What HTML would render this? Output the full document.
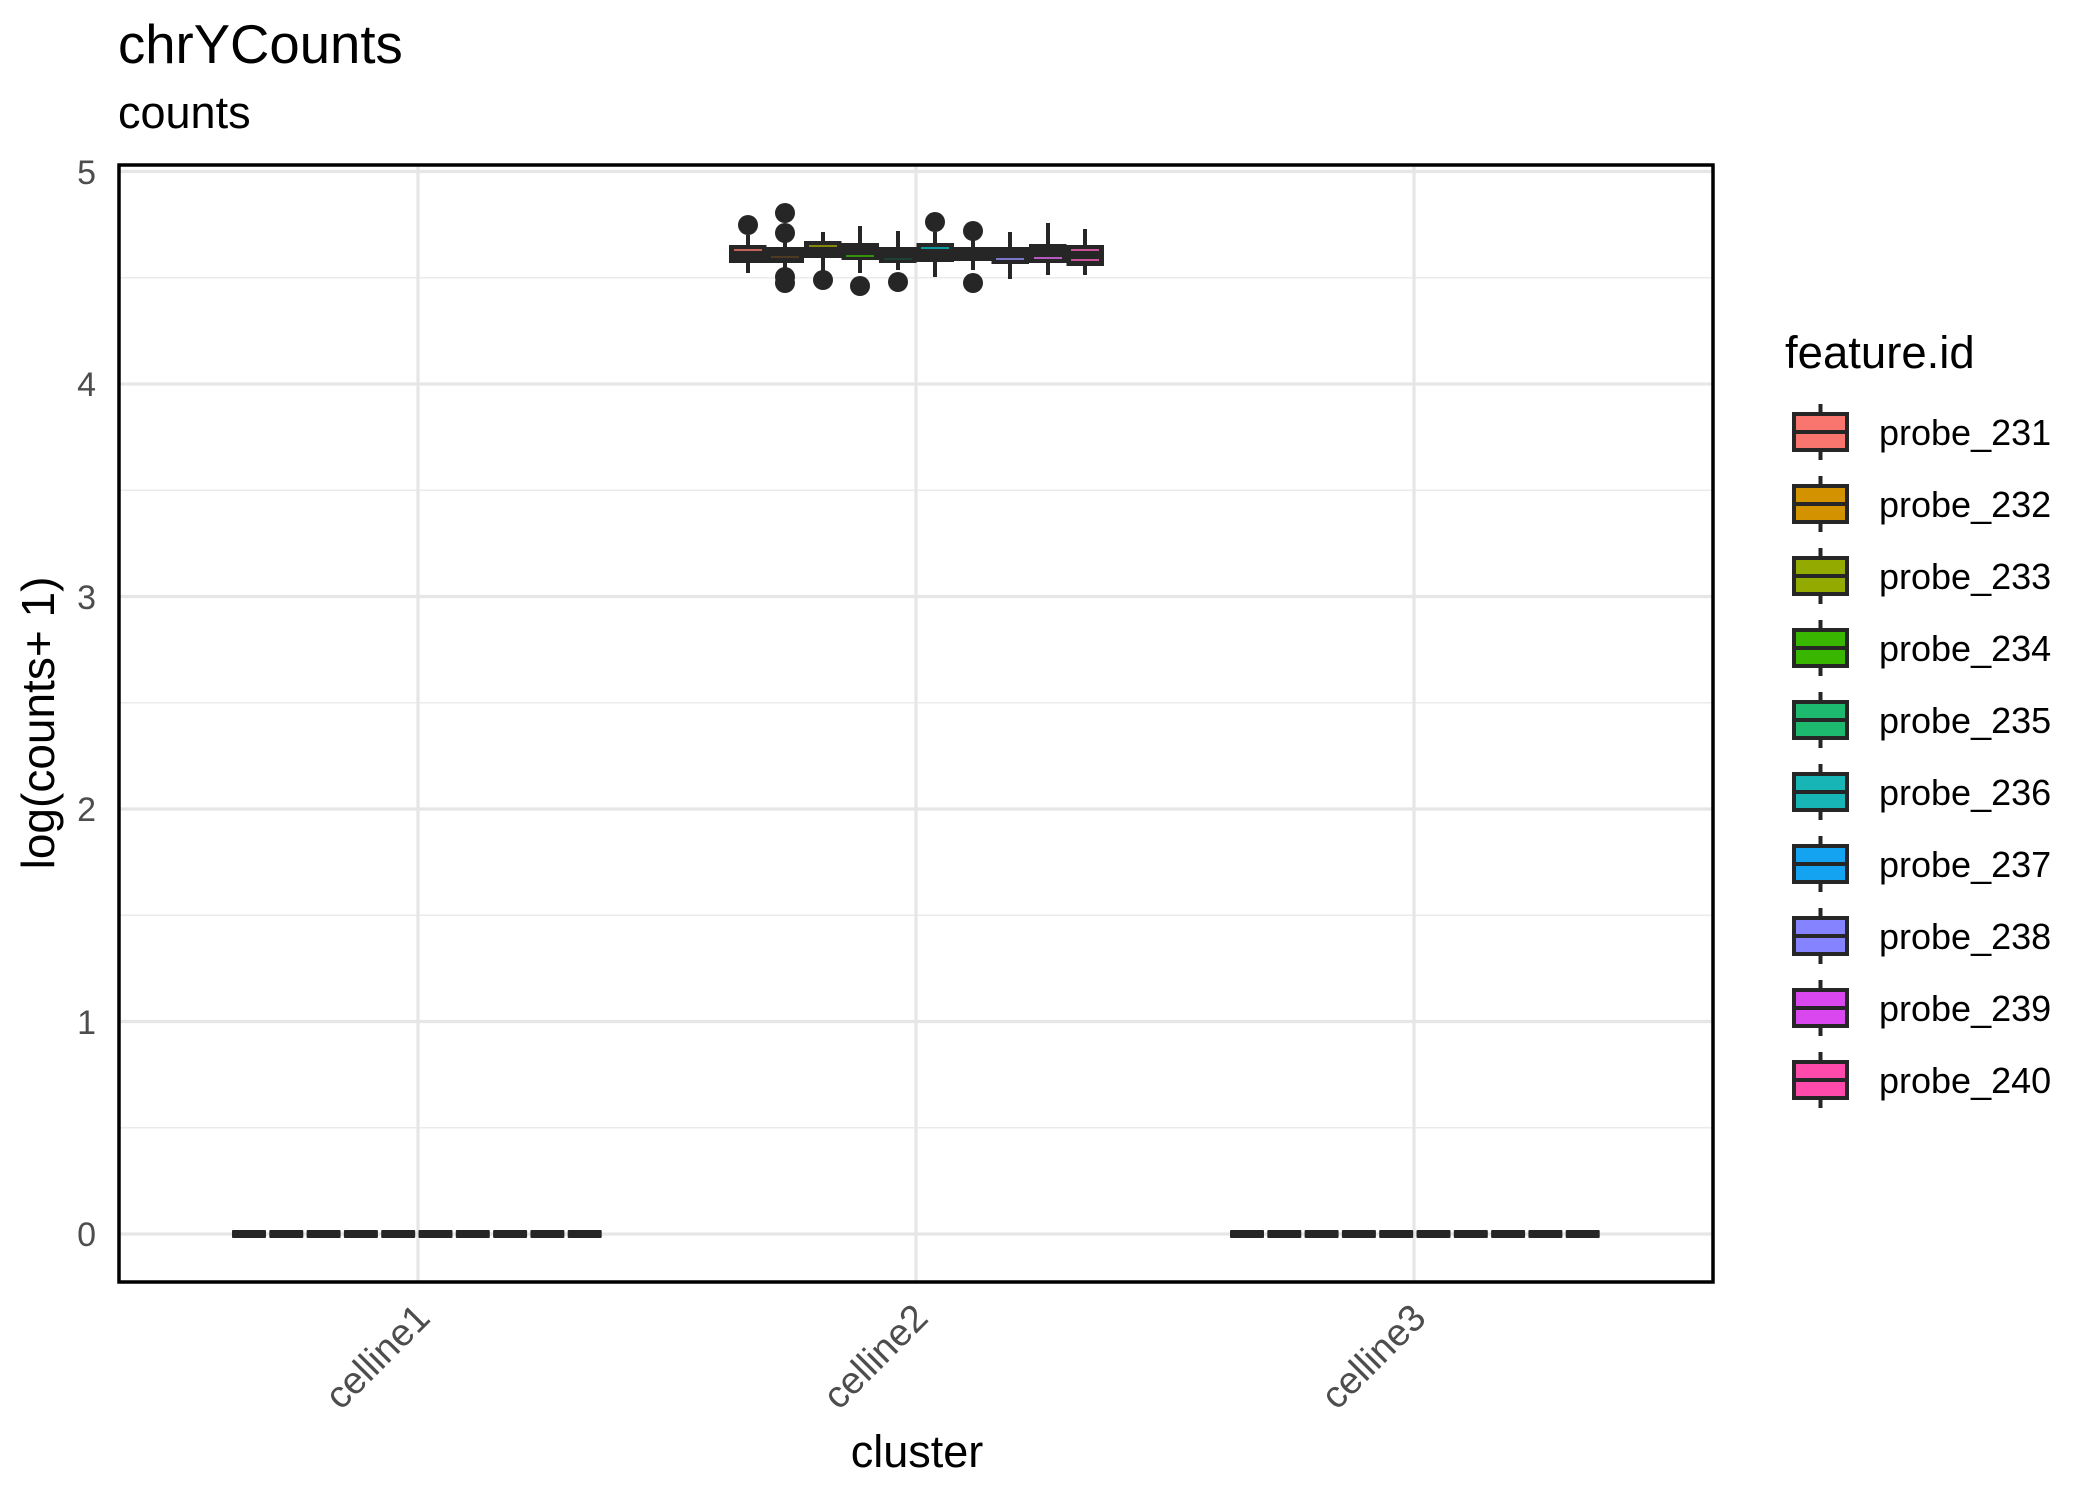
<!DOCTYPE html>
<html><head><meta charset="utf-8"><style>html,body{margin:0;padding:0;background:#fff}svg{display:block}</style></head>
<body>
<svg width="2100" height="1500" viewBox="0 0 2100 1500" xmlns="http://www.w3.org/2000/svg" font-family="Liberation Sans, Arial, sans-serif">
<rect width="2100" height="1500" fill="#fff"/>
<g stroke="#ebebeb" stroke-width="1.6">
<line x1="119" x2="1713" y1="1127.75" y2="1127.75"/>
<line x1="119" x2="1713" y1="915.25" y2="915.25"/>
<line x1="119" x2="1713" y1="702.75" y2="702.75"/>
<line x1="119" x2="1713" y1="490.25" y2="490.25"/>
<line x1="119" x2="1713" y1="277.75" y2="277.75"/>
</g>
<g stroke="#e6e6e6" stroke-width="3.2">
<line x1="119" x2="1713" y1="1234" y2="1234"/>
<line x1="119" x2="1713" y1="1021.5" y2="1021.5"/>
<line x1="119" x2="1713" y1="809" y2="809"/>
<line x1="119" x2="1713" y1="596.5" y2="596.5"/>
<line x1="119" x2="1713" y1="384" y2="384"/>
<line x1="119" x2="1713" y1="171.5" y2="171.5"/>
<line x1="418" x2="418" y1="165" y2="1282"/>
<line x1="916" x2="916" y1="165" y2="1282"/>
<line x1="1414" x2="1414" y1="165" y2="1282"/>
</g>
<g fill="#262626">
<rect x="232" y="1230" width="34" height="8" rx="1"/><rect x="269.3" y="1230" width="34" height="8" rx="1"/><rect x="306.6" y="1230" width="34" height="8" rx="1"/><rect x="343.9" y="1230" width="34" height="8" rx="1"/><rect x="381.2" y="1230" width="34" height="8" rx="1"/><rect x="418.5" y="1230" width="34" height="8" rx="1"/><rect x="455.8" y="1230" width="34" height="8" rx="1"/><rect x="493.1" y="1230" width="34" height="8" rx="1"/><rect x="530.4" y="1230" width="34" height="8" rx="1"/><rect x="567.7" y="1230" width="34" height="8" rx="1"/>
<rect x="1230" y="1230" width="34" height="8" rx="1"/><rect x="1267.3" y="1230" width="34" height="8" rx="1"/><rect x="1304.6" y="1230" width="34" height="8" rx="1"/><rect x="1341.9" y="1230" width="34" height="8" rx="1"/><rect x="1379.2" y="1230" width="34" height="8" rx="1"/><rect x="1416.5" y="1230" width="34" height="8" rx="1"/><rect x="1453.8" y="1230" width="34" height="8" rx="1"/><rect x="1491.1" y="1230" width="34" height="8" rx="1"/><rect x="1528.4" y="1230" width="34" height="8" rx="1"/><rect x="1565.7" y="1230" width="34" height="8" rx="1"/>
</g>
<g stroke="#262626" stroke-width="4">
<line x1="748" x2="748" y1="235" y2="273"/>
<line x1="785" x2="785" y1="233" y2="270"/>
<line x1="823" x2="823" y1="232" y2="277"/>
<line x1="860" x2="860" y1="226" y2="273"/>
<line x1="898" x2="898" y1="231" y2="270"/>
<line x1="935" x2="935" y1="232" y2="277"/>
<line x1="973" x2="973" y1="231" y2="270"/>
<line x1="1010" x2="1010" y1="232" y2="279"/>
<line x1="1048" x2="1048" y1="223" y2="275"/>
<line x1="1085" x2="1085" y1="229" y2="275"/>
</g>
<g fill="#262626">
<rect x="729" y="245" width="37.5" height="18"/>
<rect x="766.5" y="247" width="37.5" height="16"/>
<rect x="804" y="241" width="37.5" height="17"/>
<rect x="841.5" y="243" width="37.5" height="17"/>
<rect x="879" y="247" width="37.5" height="16"/>
<rect x="916.5" y="243" width="37.5" height="19"/>
<rect x="954" y="247" width="37.5" height="14"/>
<rect x="991.5" y="247" width="37.5" height="17"/>
<rect x="1029" y="244" width="37.5" height="19"/>
<rect x="1066.5" y="245" width="37.5" height="21"/>
<circle cx="748" cy="225" r="10"/>
<circle cx="785" cy="213" r="10"/><circle cx="785" cy="233" r="10"/><circle cx="785" cy="277" r="10"/><circle cx="785" cy="283" r="10"/>
<circle cx="823" cy="280" r="10"/>
<circle cx="860" cy="286" r="10"/>
<circle cx="898" cy="282" r="10"/>
<circle cx="935" cy="222" r="10"/>
<circle cx="973" cy="231" r="10"/><circle cx="973" cy="283" r="10"/>
</g>
<g stroke-width="1.6">
<line x1="734" x2="762" y1="250" y2="250" stroke="#F8766D"/>
<line x1="771" x2="799" y1="257" y2="257" stroke="#5a4020"/>
<line x1="809" x2="837" y1="246" y2="246" stroke="#A3A500"/>
<line x1="846" x2="874" y1="256" y2="256" stroke="#39B600"/>
<line x1="884" x2="912" y1="259" y2="259" stroke="#1a4a38"/>
<line x1="921" x2="949" y1="248" y2="248" stroke="#00BFC4"/>
<line x1="996" x2="1024" y1="259" y2="259" stroke="#9590FF"/>
<line x1="1034" x2="1062" y1="258" y2="258" stroke="#E76BF3"/>
<line x1="1071" x2="1099" y1="250" y2="250" stroke="#FF62BC"/>
<line x1="1071" x2="1099" y1="260" y2="260" stroke="#FF62BC"/>
</g>
<rect x="119" y="165" width="1594" height="1117" fill="none" stroke="#000" stroke-width="3.5"/>
<g font-size="34" fill="#4d4d4d" text-anchor="end">
<text x="96" y="1246">0</text><text x="96" y="1034">1</text><text x="96" y="821">2</text><text x="96" y="609">3</text><text x="96" y="396">4</text><text x="96" y="184">5</text>
</g>
<g font-size="38" fill="#4d4d4d" text-anchor="end">
<text transform="translate(432,1320) rotate(-45)">celline1</text>
<text transform="translate(930,1320) rotate(-45)">celline2</text>
<text transform="translate(1428,1320) rotate(-45)">celline3</text>
</g>
<text x="917" y="1467" font-size="45" text-anchor="middle" fill="#000">cluster</text>
<text transform="translate(54,723) rotate(-90)" font-size="46" text-anchor="middle" fill="#000">log(counts+ 1)</text>
<text x="118" y="63" font-size="54.5" fill="#000">chrYCounts</text>
<text x="118" y="128" font-size="45" fill="#000">counts</text>
<text x="1785" y="368" font-size="45.5" fill="#000">feature.id</text>
<g stroke="#262626" stroke-width="4">
<g transform="translate(0,0)"><line x1="1820.5" x2="1820.5" y1="404" y2="460"/><rect x="1794" y="414" width="53" height="36" fill="#F8766D"/><line x1="1794" x2="1847" y1="432" y2="432"/></g>
<g transform="translate(0,72)"><line x1="1820.5" x2="1820.5" y1="404" y2="460"/><rect x="1794" y="414" width="53" height="36" fill="#D39200"/><line x1="1794" x2="1847" y1="432" y2="432"/></g>
<g transform="translate(0,144)"><line x1="1820.5" x2="1820.5" y1="404" y2="460"/><rect x="1794" y="414" width="53" height="36" fill="#93AA00"/><line x1="1794" x2="1847" y1="432" y2="432"/></g>
<g transform="translate(0,216)"><line x1="1820.5" x2="1820.5" y1="404" y2="460"/><rect x="1794" y="414" width="53" height="36" fill="#39B600"/><line x1="1794" x2="1847" y1="432" y2="432"/></g>
<g transform="translate(0,288)"><line x1="1820.5" x2="1820.5" y1="404" y2="460"/><rect x="1794" y="414" width="53" height="36" fill="#1DB96E"/><line x1="1794" x2="1847" y1="432" y2="432"/></g>
<g transform="translate(0,360)"><line x1="1820.5" x2="1820.5" y1="404" y2="460"/><rect x="1794" y="414" width="53" height="36" fill="#17B5B5"/><line x1="1794" x2="1847" y1="432" y2="432"/></g>
<g transform="translate(0,432)"><line x1="1820.5" x2="1820.5" y1="404" y2="460"/><rect x="1794" y="414" width="53" height="36" fill="#14A3F0"/><line x1="1794" x2="1847" y1="432" y2="432"/></g>
<g transform="translate(0,504)"><line x1="1820.5" x2="1820.5" y1="404" y2="460"/><rect x="1794" y="414" width="53" height="36" fill="#8583FF"/><line x1="1794" x2="1847" y1="432" y2="432"/></g>
<g transform="translate(0,576)"><line x1="1820.5" x2="1820.5" y1="404" y2="460"/><rect x="1794" y="414" width="53" height="36" fill="#DB47EE"/><line x1="1794" x2="1847" y1="432" y2="432"/></g>
<g transform="translate(0,648)"><line x1="1820.5" x2="1820.5" y1="404" y2="460"/><rect x="1794" y="414" width="53" height="36" fill="#FF4AAC"/><line x1="1794" x2="1847" y1="432" y2="432"/></g>
</g>
<g font-size="36" fill="#000">
<text x="1879" y="445">probe_231</text>
<text x="1879" y="517">probe_232</text>
<text x="1879" y="589">probe_233</text>
<text x="1879" y="661">probe_234</text>
<text x="1879" y="733">probe_235</text>
<text x="1879" y="805">probe_236</text>
<text x="1879" y="877">probe_237</text>
<text x="1879" y="949">probe_238</text>
<text x="1879" y="1021">probe_239</text>
<text x="1879" y="1093">probe_240</text>
</g>
</svg>
</body></html>
